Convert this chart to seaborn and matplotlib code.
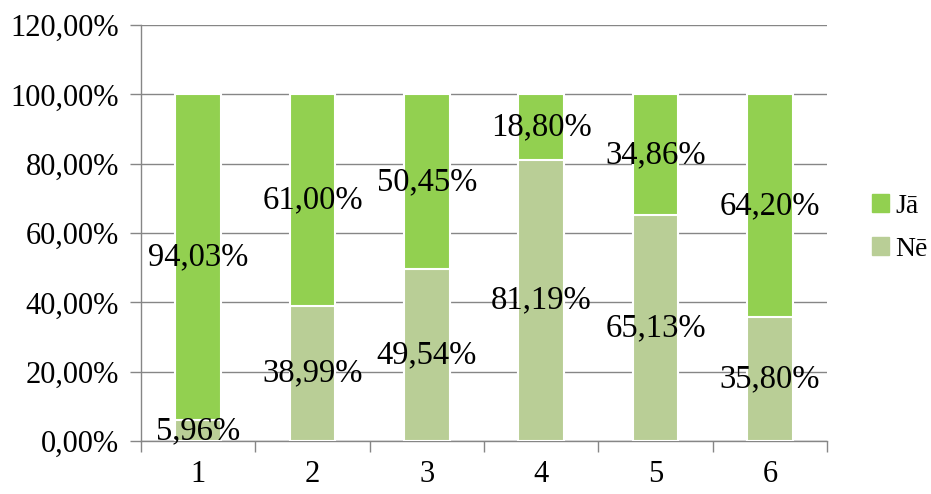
import pandas as pd
import seaborn as sns
import matplotlib.pyplot as plt
from matplotlib.ticker import FuncFormatter, FixedLocator

# Data
categories = ['1', '2', '3', '4', '5', '6']
ne_values = [5.96, 38.99, 49.54, 81.19, 65.13, 35.80]
ja_values = [94.03, 61.00, 50.45, 18.80, 34.86, 64.20]

data = pd.DataFrame({'Kategorija': categories, 'Nē': ne_values, 'Jā': ja_values})
data['Kopā'] = data['Nē'] + data['Jā']

ja_color = '#92D050'
ne_color = '#B9CE96'
grid_color = '#868686'

sns.set_style('white')
plt.rcParams['font.family'] = ['Liberation Serif', 'DejaVu Serif']
plt.rcParams['text.color'] = 'black'
plt.rcParams['xtick.color'] = 'black'
plt.rcParams['ytick.color'] = 'black'

fig = plt.figure(figsize=(9.31, 4.94), dpi=100)
ax = fig.add_axes([141 / 931, 1 - 441 / 494, 686 / 931, 416 / 494])

sns.barplot(data=data, x='Kategorija', y='Kopā', color=ja_color, width=0.4,
            edgecolor='white', linewidth=1.5, saturation=1, ax=ax, zorder=3)
sns.barplot(data=data, x='Kategorija', y='Nē', color=ne_color, width=0.4,
            edgecolor='white', linewidth=1.5, saturation=1, ax=ax, zorder=3)

# data labels in the middle of each segment
for i, (ne, ja) in enumerate(zip(ne_values, ja_values)):
    ax.text(i, ne / 2, f'{ne:.2f}%'.replace('.', ','), ha='center', va='center',
            fontsize=23.5, zorder=5)
    ax.text(i, ne + ja / 2, f'{ja:.2f}%'.replace('.', ','), ha='center', va='center',
            fontsize=23.5, zorder=5)

ax.set_ylim(0, 120)
ax.set_xlim(-0.5, len(categories) - 0.5)
ax.yaxis.set_major_locator(FixedLocator(range(0, 121, 20)))
ax.yaxis.set_major_formatter(FuncFormatter(lambda v, p: f'{v:.2f}%'.replace('.', ',')))
ax.grid(axis='y', color=grid_color, linewidth=1, zorder=0)
ax.set_axisbelow(True)

# ticks between the categories on the x axis
ax.set_xticks(range(len(categories)))
ax.set_xticks([i + 0.5 for i in range(-1, len(categories))], minor=True)
ax.tick_params(axis='x', which='major', length=0, pad=14, labelsize=22)
ax.tick_params(axis='x', which='minor', length=8, color=grid_color, width=1, direction='out')
ax.tick_params(axis='y', length=8, color=grid_color, labelcolor='black', width=1,
               direction='out', labelsize=22, pad=8)
ax.tick_params(axis='both', bottom=True, left=True)
ax.xaxis.set_tick_params(which='minor', bottom=True)

for side in ['top', 'right']:
    ax.spines[side].set_visible(False)
for side in ['left', 'bottom']:
    ax.spines[side].set_color(grid_color)
    ax.spines[side].set_linewidth(1)

ax.set_xlabel('')
ax.set_ylabel('')

handles = [plt.Rectangle((0, 0), 1, 1, color=ja_color), plt.Rectangle((0, 0), 1, 1, color=ne_color)]
fig.legend(handles, ['Jā', 'Nē'], loc='center left', bbox_to_anchor=(872 / 931, 1 - 228 / 494),
           frameon=False, fontsize=20, handlelength=0.6, handleheight=0.6,
           handletextpad=0.25, labelspacing=0.65, borderpad=0, borderaxespad=0)

plt.savefig('out.png', dpi=100)
